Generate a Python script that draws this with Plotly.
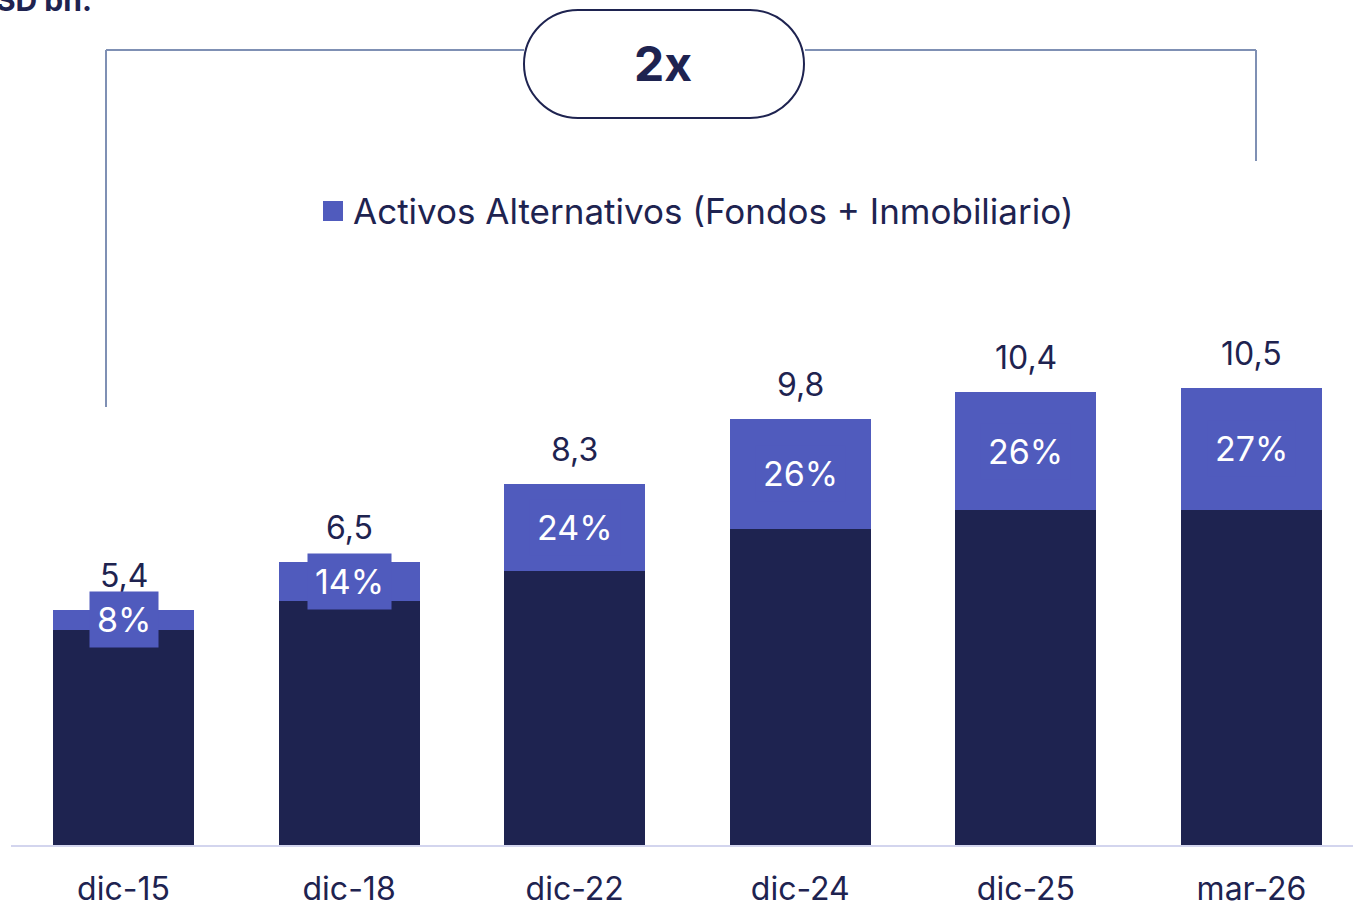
import plotly.graph_objects as go

categories = ["dic-15", "dic-18", "dic-22", "dic-24", "dic-25", "mar-26"]
base_values = [4.95, 5.6, 6.3, 7.25, 7.7, 7.7]
alt_values = [0.45, 0.9, 2.0, 2.55, 2.7, 2.8]
total_labels = ["5,4", "6,5", "8,3", "9,8", "10,4", "10,5"]
pct_labels = ["8%", "14%", "24%", "26%", "26%", "27%"]
legend_label = "Activos Alternativos (Fondos + Inmobiliario)"
unit_label = "USD bn."
growth_label = "2x"

NAVY = "#1e2350"
BLUE = "#505bbd"
LINE = "#7f90b4"
FONT = "Inter"

W, H = 1353, 907
L, R, T, B = 11, 0, 0, 62
PW, PH = W - L - R, H - T - B


def px(x):
    return (x - L) / PW


def py(y):
    return (H - B - y) / PH


fig = go.Figure()
xs = list(range(len(categories)))
fig.add_trace(go.Bar(x=xs, y=base_values, marker=dict(color=NAVY, line=dict(width=0)),
                     width=0.625, showlegend=False, hoverinfo="skip"))
fig.add_trace(go.Bar(x=xs, y=alt_values, marker=dict(color=BLUE, line=dict(width=0)),
                     width=0.625, name=legend_label, showlegend=False, hoverinfo="skip"))

annotations = []
for i, (b, a, tl, pl) in enumerate(zip(base_values, alt_values, total_labels, pct_labels)):
    annotations.append(dict(x=i, y=b + a, text=tl, showarrow=False, yanchor="bottom",
                            yshift=13, font=dict(family=FONT, size=32, color=NAVY)))
    annotations.append(dict(x=i, y=b + a / 2, text=pl, showarrow=False, yanchor="middle",
                            bgcolor=BLUE, borderpad=7,
                            font=dict(family=FONT, size=34, color="white")))

# legend (manual)
annotations.append(dict(xref="paper", yref="paper", x=px(351), y=py(211), xanchor="left",
                        yanchor="middle", text=legend_label, showarrow=False,
                        font=dict(family=FONT, size=35, color=NAVY)))
# growth label
annotations.append(dict(xref="paper", yref="paper", x=px(663), y=py(64), xanchor="center",
                        yanchor="middle", text="<b>" + growth_label + "</b>", showarrow=False,
                        font=dict(family=FONT, size=48, color=NAVY)))
# unit label (clipped at top)
annotations.append(dict(xref="paper", yref="paper", x=px(94), y=py(20), xanchor="right",
                        yanchor="bottom", text="<b>" + unit_label + "</b>", showarrow=False,
                        font=dict(family=FONT, size=30, color=NAVY)))

shapes = []
# legend square
shapes.append(dict(type="rect", xref="paper", yref="paper", x0=px(323), x1=px(343),
                   y0=py(221), y1=py(201), fillcolor=BLUE, line=dict(width=0)))
# bracket lines
for (x0, y0, x1, y1) in [(106, 407, 106, 50), (106, 50, 524, 50), (805, 50, 1256, 50),
                         (1256, 50, 1256, 161)]:
    shapes.append(dict(type="line", xref="paper", yref="paper", x0=px(x0), y0=py(y0),
                       x1=px(x1), y1=py(y1), line=dict(color=LINE, width=2)))

# stadium (pill) shape around growth label
lx, rx, ty, by = 524, 804, 10, 118
r = (by - ty) / 2
cy = (ty + by) / 2
k = 0.5523 * r


def P(x, y):
    return f"{px(x):.6f},{py(y):.6f}"


path = (f"M{P(lx + r, ty)} L{P(rx - r, ty)} "
        f"C{P(rx - r + k, ty)} {P(rx, cy - k)} {P(rx, cy)} "
        f"C{P(rx, cy + k)} {P(rx - r + k, by)} {P(rx - r, by)} "
        f"L{P(lx + r, by)} "
        f"C{P(lx + r - k, by)} {P(lx, cy + k)} {P(lx, cy)} "
        f"C{P(lx, cy - k)} {P(lx + r - k, ty)} {P(lx + r, ty)} Z")
shapes.append(dict(type="path", xref="paper", yref="paper", path=path,
                   fillcolor="white", line=dict(color=NAVY, width=2)))

unit = 225.6
fig.update_layout(
    width=W, height=H, autosize=False,
    margin=dict(l=L, r=R, t=T, b=B, pad=0),
    paper_bgcolor="white", plot_bgcolor="white",
    barmode="stack", bargap=0,
    annotations=annotations, shapes=shapes,
    showlegend=False,
    xaxis=dict(range=[-(123.5 - L) / unit, -(123.5 - L) / unit + PW / unit],
               tickvals=xs, ticktext=categories, showgrid=False, zeroline=False,
               showline=True, linecolor="#d3d5ee", linewidth=2, ticks="",
               ticklabelstandoff=15, automargin=False,
               tickfont=dict(family=FONT, size=32, color=NAVY), fixedrange=True),
    yaxis=dict(range=[0, PH / 43.52], visible=False, showgrid=False, zeroline=False,
               fixedrange=True, automargin=False),
)

fig.write_html("out.html", config={"displayModeBar": False},
               post_script="document.body.style.margin='0';document.body.style.overflow='hidden';")
